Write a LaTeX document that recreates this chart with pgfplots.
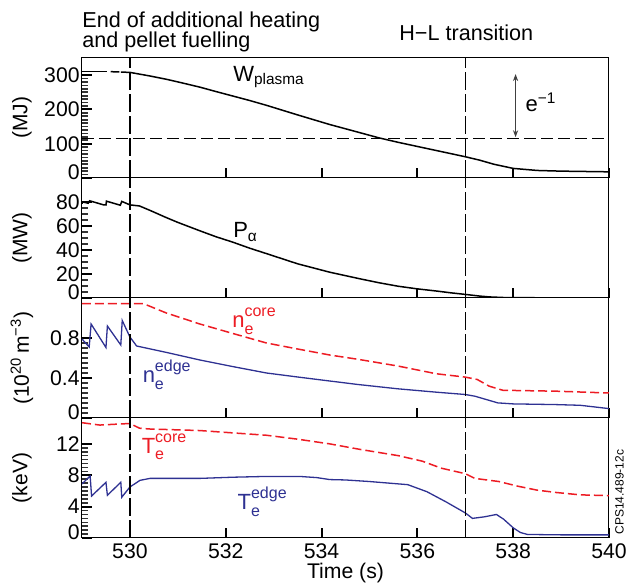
\documentclass[border=0pt]{standalone}
\usepackage{fontspec}
\setmainfont{Liberation Sans}
\usepackage{pgfplots}
\pgfplotsset{compat=1.18}
\usetikzlibrary{arrows.meta}

\definecolor{corered}{RGB}{237,28,36}
\definecolor{edgeblue}{RGB}{46,49,146}

% stacked subscript / superscript
\newcommand{\subsup}[2]{\rlap{\raisebox{-0.3em}{\fontsize{8}{9}\selectfont #1}}\raisebox{0.5em}{\fontsize{8}{9}\selectfont #2}}

\pgfplotsset{
  panel/.style={
    scale only axis, width=263.5pt, height=60pt,
    anchor=north west,
    xmin=529, xmax=540,
    xtick={530,532,534,536,538,540},
    xtick pos=left, ytick pos=left,
    tick align=inside,
    major tick length=5pt, minor tick length=2.8pt,
    major tick style={draw=black, line width=1pt},
    minor tick style={draw=black!80, line width=0.8pt},
    axis line style={line width=0.5pt},
    tick label style={font=\fontsize{10.6}{12}\selectfont},
    yticklabel style={inner xsep=1pt},
    /pgf/number format/assume math mode=true,
    ylabel style={at={(axis description cs:-0.114,0.5)}, anchor=center,
      font=\fontsize{10.5}{12}\selectfont},
  },
  vline/.style={black, line width=0.6pt, dash pattern=on 9pt off 2pt, forget plot},
  core/.style={corered, line width=0.75pt, dash pattern=on 4.5pt off 2pt},
  edge/.style={edgeblue, line width=0.65pt},
}
\tikzset{lab/.style={anchor=base west, font=\fontsize{11}{13}\selectfont, inner sep=0pt}}

\begin{document}
\begin{tikzpicture}
\path[use as bounding box] (0,0) rectangle (314pt,-293.5pt);

% ---- W plasma
\begin{axis}[panel, at={(41pt,-29pt)},
  ymin=0, ymax=350, ytick={0,100,200,300},
  yticklabels={{\raisebox{6pt}{0}},100,200,300},
  minor y tick num=9, xticklabels={},
  ylabel={(MJ)}]
\addplot[black, line width=0.75pt] coordinates {(529.00,311) (529.52,311)};
\addplot[black, line width=0.75pt] coordinates {(529.60,310) (529.78,309.5)};
\addplot[black, line width=0.75pt] coordinates {
  (529.81,309) (530.0,308) (530.4,298) (530.76,288) (531.1,277) (531.46,265)
  (531.8,252) (532.15,239) (532.5,226) (532.85,212) (533.5,184) (534.17,156)
  (534.7,136) (535.2,117) (535.6,104) (536.0,92) (536.5,77) (537.0,62)
  (537.3,52) (537.6,40) (538.0,28) (538.5,22) (539.0,20) (539.5,19) (540.0,18)};
\addplot[black, line width=0.6pt, dash pattern=on 6pt off 2.5pt] coordinates {(529,115) (540,115)};
\addplot[vline] coordinates {(530,0) (530,350)};
\addplot[vline] coordinates {(537,0) (537,350)};
\draw[{Stealth[length=3.5pt,width=2.6pt]}-{Stealth[length=3.5pt,width=2.6pt]}, black!75, line width=0.5pt]
  (axis cs:538.05,119) -- (axis cs:538.05,303);
\node[lab] at (axis cs:532.15,282) {W\textsubscript{plasma}};
\node[lab] at (axis cs:538.25,194) {e\textsuperscript{−1}};
\end{axis}

% ---- P alpha
\begin{axis}[panel, at={(41pt,-89pt)},
  ymin=0, ymax=100, ytick={0,20,40,60,80},
  yticklabels={{\raisebox{6pt}{0}},20,40,60,80},
  minor y tick num=3, xticklabels={},
  ylabel={(MW)}]
\addplot[black, line width=0.75pt] coordinates {
  (529.0,78.5) (529.01,80) (529.13,79) (529.16,81) (529.45,77.6) (529.5,77.5)
  (529.51,80.7) (529.8,77.3) (529.83,80.5) (530.0,77.6) (530.2,76.7)
  (530.42,73) (530.76,67) (531.0,63) (531.46,56) (531.8,51) (532.15,46.5)
  (532.5,41.5) (532.85,37) (533.5,28.5) (534.17,21.5) (534.8,16) (535.2,12.7)
  (535.6,9.8) (536.0,7.6) (536.4,5.8) (536.7,4.3) (537.0,3.0) (537.3,1.6)
  (537.5,0.9) (537.8,0.4) (538.0,0.25) (539.0,0.15) (540,0.1)};
\addplot[vline] coordinates {(530,0) (530,100)};
\addplot[vline] coordinates {(537,0) (537,100)};
\node[lab] at (axis cs:532.15,50) {P\textsubscript{α}};
\end{axis}

% ---- density
\begin{axis}[panel, at={(41pt,-149pt)},
  ymin=0, ymax=1.2, ytick={0,0.4,0.8},
  yticklabels={{\raisebox{6pt}{0}},0.4,0.8},
  minor y tick num=7, xticklabels={},
  ylabel={(10\textsuperscript{20}\,m\textsuperscript{−3})}]
\addplot[core] coordinates {
  (529,1.144) (530.28,1.144) (530.76,1.05) (531.46,0.94) (532.15,0.845)
  (532.85,0.75) (533.5,0.69) (534.17,0.63) (534.76,0.587) (535.59,0.52)
  (536.4,0.442) (537.0,0.409) (537.25,0.385) (537.5,0.318) (537.8,0.275)
  (538.05,0.275) (538.9,0.268) (540,0.25)};
\addplot[edge] coordinates {
  (529.0,0.79) (529.15,0.71) (529.19,0.94) (529.5,0.705) (529.53,0.92)
  (529.81,0.73) (529.84,0.975) (530.0,0.81) (530.14,0.72) (530.76,0.656)
  (531.46,0.58) (532.15,0.514) (532.85,0.45) (533.5,0.41) (534.17,0.37)
  (534.76,0.335) (535.59,0.292) (536.4,0.258) (537.0,0.235) (537.2,0.218)
  (537.68,0.151) (538.0,0.141) (538.9,0.134) (539.4,0.127) (540,0.094)};
\addplot[vline] coordinates {(530,0) (530,1.2)};
\addplot[vline] coordinates {(537,0) (537,1.2)};
\node[lab, text=corered] at (axis cs:532.13,0.9) {n\subsup{e}{core}};
\node[lab, text=edgeblue] at (axis cs:530.26,0.355) {n\subsup{e}{edge}};
\end{axis}

% ---- temperature
\begin{axis}[panel, at={(41pt,-209pt)},
  ymin=0, ymax=15.3, ytick={0,4,8,12},
  yticklabels={{\raisebox{6pt}{0}},4,8,12},
  minor y tick num=7,
  xticklabels={530,532,534,536,538,540},
  xticklabel style={anchor=center, yshift=-6.75pt},
  xlabel={Time (s)},
  xlabel style={at={(axis description cs:0.5,0)}, anchor=center, yshift=-17.5pt,
    font=\fontsize{10.6}{12}\selectfont},
  ylabel={(keV)}]
\addplot[core] coordinates {
  (529.0,14.7) (529.37,14.4) (530.0,14.6) (530.2,14.0) (530.4,13.9)
  (531.46,13.7) (532.15,13.4) (532.85,13.1) (533.5,12.6) (534.17,12.0)
  (534.8,11.3) (535.6,10.5) (536.1,9.8) (536.5,8.9) (537.0,8.2) (537.2,7.6)
  (537.7,7.2) (538.1,6.6) (538.5,6.1) (538.9,5.8) (539.4,5.5) (540.0,5.4)};
\addplot[edge] coordinates {
  (529.0,6.9) (529.17,7.9) (529.2,5.35) (529.5,7.1) (529.53,5.45)
  (529.81,7.1) (529.83,5.2) (530.0,6.5) (530.21,7.35) (530.42,7.6)
  (531.46,7.6) (532.15,7.75) (532.85,7.85) (533.54,7.85) (533.9,7.7)
  (534.17,7.45) (534.5,7.4) (535.0,7.2) (535.8,6.8) (536.2,5.9) (536.6,4.6)
  (537.0,3.2) (537.15,2.5) (537.4,2.7) (537.65,3.0) (537.8,2.4) (538.0,1.3)
  (538.15,0.7) (538.3,0.45) (539.0,0.4) (540.0,0.4)};
\addplot[vline] coordinates {(530,0) (530,15.3)};
\addplot[vline] coordinates {(537,0) (537,15.3)};
\node[lab, text=corered] at (axis cs:530.24,10.8) {T\subsup{e}{core}};
\node[lab, text=edgeblue] at (axis cs:532.24,3.6) {T\subsup{e}{edge}};
\end{axis}

\node[rotate=90, anchor=west, inner sep=0pt, font=\fontsize{6}{7}\selectfont]
  at (309.75pt,-267.5pt) {CPS14.489-12c};
\node[anchor=base west, inner sep=0pt, font=\fontsize{10.8}{12}\selectfont] at (41pt,-13.75pt) {End of additional heating};
\node[anchor=base west, inner sep=0pt, font=\fontsize{10.8}{12}\selectfont] at (41pt,-23.75pt) {and pellet fuelling};
\node[anchor=base west, inner sep=0pt, font=\fontsize{10.8}{12}\selectfont] at (199.5pt,-20.5pt) {H−L transition};
\end{tikzpicture}
\end{document}
